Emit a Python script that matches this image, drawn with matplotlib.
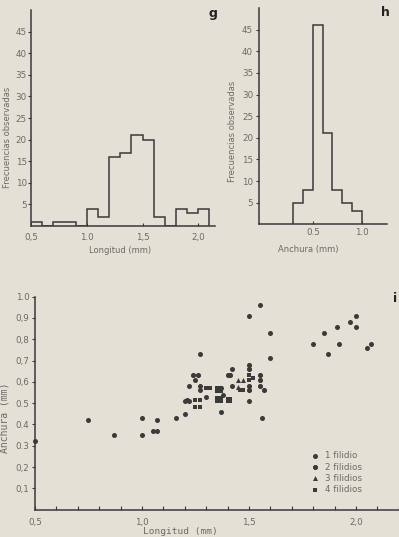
import matplotlib
matplotlib.use("Agg")
import matplotlib.pyplot as plt
import numpy as np

# ---------------- data ----------------
# histogram g: length (mm)
g_edges = [0.5, 0.6, 0.7, 0.8, 0.9, 1.0, 1.1, 1.2, 1.3, 1.4, 1.5, 1.6, 1.7, 1.8, 1.9, 2.0, 2.1]
g_counts = [1, 0, 1, 1, 0, 4, 2, 16, 17, 21, 20, 2, 0, 4, 3, 4]
g_xticks = [0.5, 1.0, 1.5, 2.0]
g_xticklabels = ["0,5", "1.0", "1,5", "2,0"]

# histogram h: width (mm)
h_edges = [0.3, 0.4, 0.5, 0.6, 0.7, 0.8, 0.9, 1.0]
h_counts = [5, 8, 46, 21, 8, 5, 3]
h_xticks = [0.5, 1.0]
h_xticklabels = ["0.5", "1.0"]

hist_yticks = [5, 10, 15, 20, 25, 30, 35, 40, 45]

# scatter i: longitud vs anchura, grouped by number of filidios
one_x = [0.50, 0.75, 0.87, 1.00, 1.00, 1.05, 1.07, 1.07, 1.16, 1.20, 1.27, 1.50, 1.55, 1.60,
         1.60, 1.80, 1.85, 1.87, 1.91, 1.92, 1.97, 2.00, 2.00, 2.05, 2.07, 1.56, 1.37, 1.50,
         1.25, 1.22, 1.27, 1.27, 1.30, 1.20, 1.22, 1.42, 1.42, 1.38, 1.37]
one_y = [0.32, 0.42, 0.35, 0.43, 0.35, 0.37, 0.37, 0.42, 0.43, 0.45, 0.73, 0.91, 0.96, 0.83,
         0.71, 0.78, 0.83, 0.73, 0.86, 0.78, 0.88, 0.91, 0.86, 0.76, 0.78, 0.43, 0.46, 0.51,
         0.61, 0.58, 0.58, 0.56, 0.53, 0.51, 0.51, 0.66, 0.58, 0.54, 0.57]

two_x = [1.24, 1.26, 1.21, 1.50, 1.50, 1.40, 1.41, 1.55, 1.55, 1.50, 1.50, 1.55, 1.57]
two_y = [0.63, 0.63, 0.515, 0.68, 0.66, 0.63, 0.63, 0.63, 0.61, 0.58, 0.56, 0.58, 0.56]

three_x = [1.45, 1.47, 1.45]
three_y = [0.61, 0.61, 0.575]

four_x = [1.30, 1.32, 1.35, 1.37, 1.35, 1.37, 1.25, 1.27, 1.25, 1.27, 1.35, 1.37, 1.35, 1.37,
          1.50, 1.50, 1.52, 1.46, 1.47, 1.40, 1.41, 1.40, 1.41]
four_y = [0.57, 0.57, 0.57, 0.57, 0.555, 0.555, 0.515, 0.515, 0.48, 0.48, 0.525, 0.525, 0.51, 0.51,
          0.63, 0.61, 0.62, 0.56, 0.56, 0.52, 0.52, 0.51, 0.51]

sc_yticks = [0.1, 0.2, 0.3, 0.4, 0.5, 0.6, 0.7, 0.8, 0.9, 1.0]
sc_yticklabels = ["0,1", "0,2", "0.3", "0.4", "0.5", "0,6", "0,7", "0,8", "0,9", "1.0"]
sc_xticks = [0.5, 1.0, 1.5, 2.0]
sc_xticklabels = ["0,5", "1,0", "1,5", "2,0"]
legend_labels = ["1 filidio", "2 filidios", "3 filidios", "4 filidios"]

# ---------------- style ----------------
BG = "#e4e0d6"
INK = "#3a3a3a"
TXT = "#6a6a66"
MONO = "DejaVu Sans Mono"
W, H = 399, 537

fig = plt.figure(figsize=(W / 100, H / 100), dpi=100, facecolor=BG)


def px_axes(left, top, right, bottom):
    return fig.add_axes([left / W, 1 - bottom / H, (right - left) / W, (bottom - top) / H])


def style(ax):
    ax.set_facecolor(BG)
    for s in ("top", "right"):
        ax.spines[s].set_visible(False)
    for s in ("left", "bottom"):
        ax.spines[s].set_color(INK)
        ax.spines[s].set_linewidth(1.1)
    ax.tick_params(colors=INK, labelcolor=TXT, labelsize=6.3, width=0.8)


# ---- g ----
axg = px_axes(31, 10, 215, 226)
style(axg)
axg.stairs(g_counts, g_edges, baseline=0, color=INK, linewidth=1.1)
axg.set_xlim(0.5, 2.15)
axg.set_ylim(0, 50)
axg.set_yticks(hist_yticks)
axg.set_xticks(g_xticks)
axg.set_xticklabels(g_xticklabels)
axg.tick_params(axis="y", direction="out", length=2, pad=1)
axg.tick_params(axis="x", direction="in", length=2, pad=5)
axg.set_ylabel("Frecuencias observadas", fontsize=6, color=TXT)
axg.yaxis.set_label_coords((12 - 31) / 184, (226 - 137) / 216)
axg.set_xlabel("Longitud (mm)", fontsize=6, color=TXT)
axg.xaxis.set_label_coords((120 - 31) / 184, -(246 - 226) / 216)
fig.text(213 / W, 1 - 13 / H, "g", fontsize=9, fontweight="bold", color="#222", ha="center", va="center")

# ---- h ----
axh = px_axes(258.7, 8, 386.7, 224.3)
style(axh)
axh.stairs(h_counts, h_edges, baseline=0, color=INK, linewidth=1.1)
axh.set_xlim(-0.057, 1.257)
axh.set_ylim(0, 50)
axh.set_yticks(hist_yticks)
axh.set_xticks(h_xticks)
axh.set_xticklabels(h_xticklabels)
axh.tick_params(axis="y", direction="out", length=2, pad=2)
axh.tick_params(axis="x", direction="in", length=2, pad=2.5)
axh.set_ylabel("Frecuencias observadas", fontsize=6, color=TXT)
axh.yaxis.set_label_coords((237 - 258.7) / 128, (224.3 - 131) / 216.3)
axh.set_xlabel("Anchura (mm)", fontsize=6, color=TXT)
axh.xaxis.set_label_coords((308 - 258.7) / 128, -(245 - 224.3) / 216.3)
fig.text(385 / W, 1 - 13 / H, "h", fontsize=9, fontweight="bold", color="#222", ha="center", va="center")

# ---- i ----
axi = px_axes(35, 296.7, 398.8, 509.6)
style(axi)
axi.set_xlim(0.5, 2.2)
axi.set_ylim(0, 1.0)
ms = 13
axi.scatter(one_x, one_y, s=ms, marker="o", color=INK, linewidths=0, label=legend_labels[0], clip_on=False, zorder=3)
axi.scatter(two_x, two_y, s=ms + 2, marker="8", color=INK, linewidths=0, label=legend_labels[1], zorder=3)
axi.scatter(three_x, three_y, s=ms, marker="^", color=INK, linewidths=0, label=legend_labels[2], zorder=3)
axi.scatter(four_x, four_y, s=ms - 2, marker="s", color=INK, linewidths=0, label=legend_labels[3], zorder=3)
axi.set_yticks(sc_yticks)
axi.set_yticklabels(sc_yticklabels)
axi.set_xticks(sc_xticks)
axi.set_xticklabels(sc_xticklabels)
axi.set_xticks(np.arange(0.5, 2.21, 0.1), minor=True)
axi.tick_params(axis="y", direction="out", length=2, pad=2)
axi.tick_params(axis="x", which="both", direction="in", length=3, pad=6, width=0.8, color=INK)
axi.set_ylabel("Anchura (mm)", fontsize=7, color=TXT, family=MONO)
axi.yaxis.set_label_coords((10 - 35) / 363.8, (509.6 - 418) / 213)
axi.set_xlabel("Longitud (mm)", fontsize=6.8, color=TXT, family=MONO)
axi.xaxis.set_label_coords((180 - 35) / 363.8, -(527 - 509.6) / 213)
leg = axi.legend(loc="upper left", bbox_to_anchor=((306 - 35) / 363.8, (509.6 - 447) / 213),
                 frameon=False, fontsize=6.3, labelcolor=TXT, handletextpad=0.7,
                 labelspacing=0.25, borderpad=0, handlelength=1.0, markerscale=1.0)
fig.text(395 / W, 1 - 298 / H, "i", fontsize=9, fontweight="bold", color="#222", ha="center", va="center")

fig.savefig("out.png", dpi=100, facecolor=BG)
